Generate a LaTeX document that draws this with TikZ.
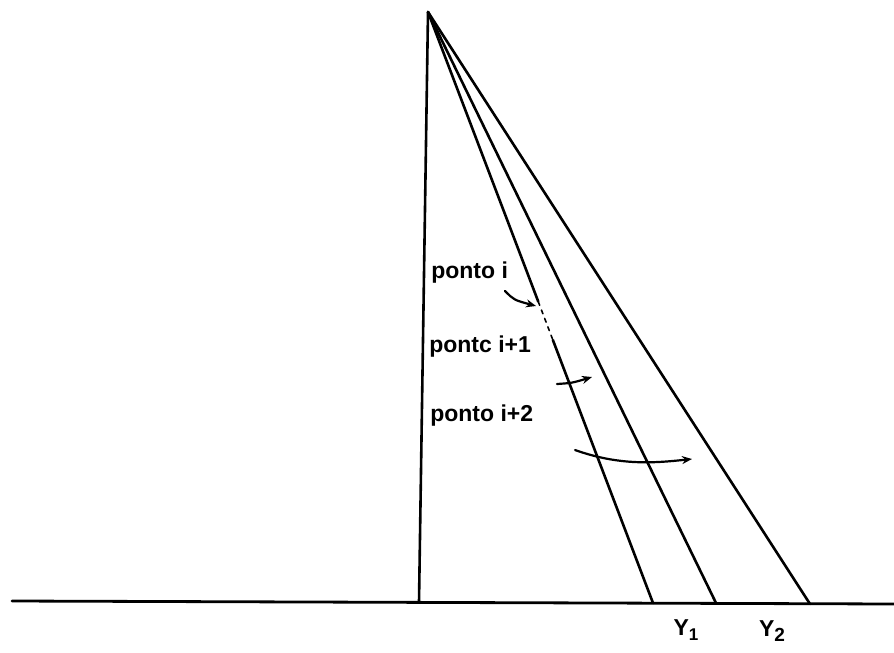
\documentclass[tikz,border=0pt]{standalone}
\usepackage{fontspec}
\setmainfont{Liberation Sans}
\usetikzlibrary{calc,arrows.meta}
\begin{document}
\begin{tikzpicture}[x=1pt,y=-1pt,line join=round,line cap=round,>=stealth,line width=2.6pt]
				\tikzset{every node/.style={font=\fontsize{23}{23}\selectfont\bfseries},
					lbl/.style={anchor=west,inner sep=0pt},
					seta/.style={-{Stealth[length=10pt,width=8pt]},line width=2.2pt}}
				\useasboundingbox (0,0) rectangle (894,653);
				% pontos de apoio
				\coordinate (apex) at (428,12);
				\coordinate (f0) at (419,602);
				\coordinate (f1) at (653,603);
				\coordinate (f2) at (716,603);
				\coordinate (f3) at (810,604);
				\coordinate (esq) at (12,601);
				\coordinate (dir) at (894,604);
				\draw[line width=2.8pt] (esq)--(dir);
				\draw (apex)--(f0);
				\draw (apex)--($(apex)!0.49!(f1)$);
				\draw[dash pattern=on 4pt off 5pt,line width=1.6pt] ($(apex)!0.49!(f1)$)--($(apex)!0.555!(f1)$);
				\draw ($(apex)!0.555!(f1)$)--(f1);
				\foreach \f in {f2,f3}
				\draw (apex)--(\f);
				% textos
				\node[lbl] (p0) at (430,273) {ponto i};
				\node[lbl] (p1) at (428,347) {pontc i+1};
				\node[lbl] (p2) at (429,416) {ponto i+2};
				\node (y1) at (686,630) {Y\raisebox{-0.45ex}{\fontsize{17}{17}\selectfont 1}};
				\node (y2) at (772,631) {Y\raisebox{-0.45ex}{\fontsize{19}{19}\selectfont 2}};
				% setas
				\coordinate (s0) at (505,291);
				\coordinate (e0) at (536,306);
				\coordinate (s1) at (557,384);
				\coordinate (e1) at (592,377);
				\coordinate (s2) at (575,450);
				\coordinate (e2) at (692,459);
				\draw[seta] (s0) .. controls (514,300) .. (e0);
				\draw[seta] (s1) .. controls (572,383) .. (e1);
				\draw[seta] (s2) .. controls (620,466) and (655,463) .. (e2);
			\end{tikzpicture}
\end{document}
